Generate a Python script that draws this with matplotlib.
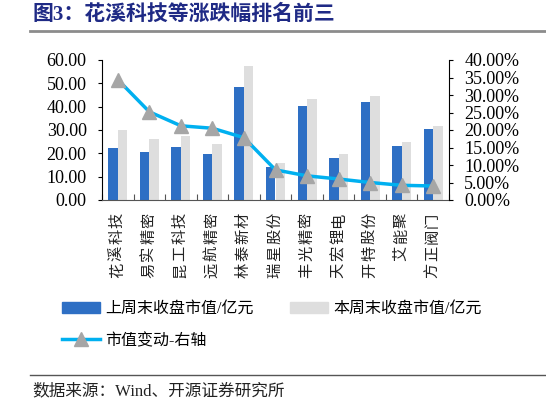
import matplotlib
matplotlib.use("Agg")
import matplotlib.pyplot as plt
import numpy as np
from matplotlib.lines import Line2D
from matplotlib.patches import Patch
from matplotlib.transforms import offset_copy

categories = ["花溪科技", "易实精密", "昆工科技", "远航精密", "林泰新材", "瑞星股份",
              "丰光精密", "天宏锂电", "开特股份", "艾能聚", "方正阀门"]
last_week = [22.1, 20.4, 22.6, 19.9, 48.6, 14.3, 40.1, 18.0, 42.0, 23.3, 30.3]
this_week = [30.0, 26.0, 27.6, 24.1, 57.6, 15.7, 43.1, 19.6, 44.4, 24.7, 31.7]
change_pct = [34.4, 25.2, 21.2, 20.5, 17.8, 8.6, 6.9, 6.0, 5.0, 4.2, 4.0]
left_ticks = [0, 10, 20, 30, 40, 50, 60]
right_ticks = [0, 5, 10, 15, 20, 25, 30, 35, 40]

plt.rcParams["font.family"] = ["Liberation Serif", "Noto Sans CJK SC", "DejaVu Sans"]

W, H = 546, 405
fig = plt.figure(figsize=(W / 100, H / 100), dpi=100)

def fx(px):
    return px / W

def fy(py):
    return 1 - py / H

ax = fig.add_axes([fx(102), fy(200), fx(449) - fx(102), fy(60) - fy(200)])
ax2 = ax.twinx()

x = np.arange(len(categories))
bw = 0.3
blue = "#2e6fc4"
gray = "#dedede"
ax.bar(x - bw / 2, last_week, bw, color=blue, zorder=2)
ax.bar(x + bw / 2, this_week, bw, color=gray, zorder=2)
ax.set_xlim(-0.5, len(categories) - 0.5)
ax.set_ylim(0, 60)
ax.set_yticks(left_ticks)
ax.set_yticklabels([f"{v:.2f}" for v in left_ticks], fontsize=13)

ax2.plot(x, change_pct, color="#00b0f0", lw=2.5, marker="^", markersize=10,
         markerfacecolor="#a6a6a6", markeredgecolor="#a6a6a6", zorder=3)
ax2.set_ylim(0, 40)
ax2.set_yticks(right_ticks)
ax2.set_yticklabels([f"{v:.2f}%" for v in right_ticks], fontsize=13)

for a in (ax, ax2):
    a.spines["top"].set_visible(False)
    a.spines["left"].set_color("#000000")
    a.spines["right"].set_color("#000000")
    a.spines["bottom"].set_color("#555555")
    a.tick_params(axis="y", length=3, width=0.8, pad=8)

ax2.spines["left"].set_visible(False)
ax.spines["right"].set_visible(False)
ax2.spines["bottom"].set_visible(False)

ax.set_xticks(np.arange(-0.5, len(categories) + 0.5, 1))
ax.set_xticklabels([])
ax.tick_params(axis="x", direction="in", length=4, color="#555555")

# vertical category labels: rotated glyphs, last char at top, wide spacing
xt = ax.get_xaxis_transform()
step_px = 16.7
top_px = 20.0
for i, c in enumerate(categories):
    n = len(c)
    for j, ch in enumerate(c):
        dy = -(top_px + step_px * (n - 1 - j)) * 72 / 100
        tr = offset_copy(xt, fig=fig, x=0, y=dy, units="points")
        ax.text(i, 0, ch, transform=tr, rotation=90, ha="center", va="center",
                fontsize=11, color="#222222")

fig.text(fx(33), fy(15), "图3：花溪科技等涨跌幅排名前三", fontsize=15, fontweight="bold",
         color="#1f2a85", va="center", ha="left")
fig.add_artist(Line2D([fx(30), 1], [fy(31), fy(31)], color="#8c8c8c", lw=2))

h_blue = Patch(color=blue, label="上周末收盘市值/亿元")
h_gray = Patch(color=gray, label="本周末收盘市值/亿元")
h_line = Line2D([], [], color="#00b0f0", lw=2.5, marker="^", markersize=10,
                markerfacecolor="#a6a6a6", markeredgecolor="#a6a6a6", label="市值变动-右轴")
for h, (px, py) in [(h_blue, (62, 309)), (h_gray, (290, 309)), (h_line, (62, 341))]:
    fig.legend(handles=[h], loc="center left", bbox_to_anchor=(fx(px), fy(py)),
               frameon=False, fontsize=11.5, handlelength=2.4, handleheight=0.75,
               handletextpad=0.3, borderpad=0, borderaxespad=0)

fig.add_artist(Line2D([fx(30), 1], [fy(375), fy(375)], color="#555555", lw=1))
fig.text(fx(32), fy(391), "数据来源：Wind、开源证券研究所", fontsize=12, color="#222222",
         va="center", ha="left")

fig.savefig("out.png", dpi=100)
